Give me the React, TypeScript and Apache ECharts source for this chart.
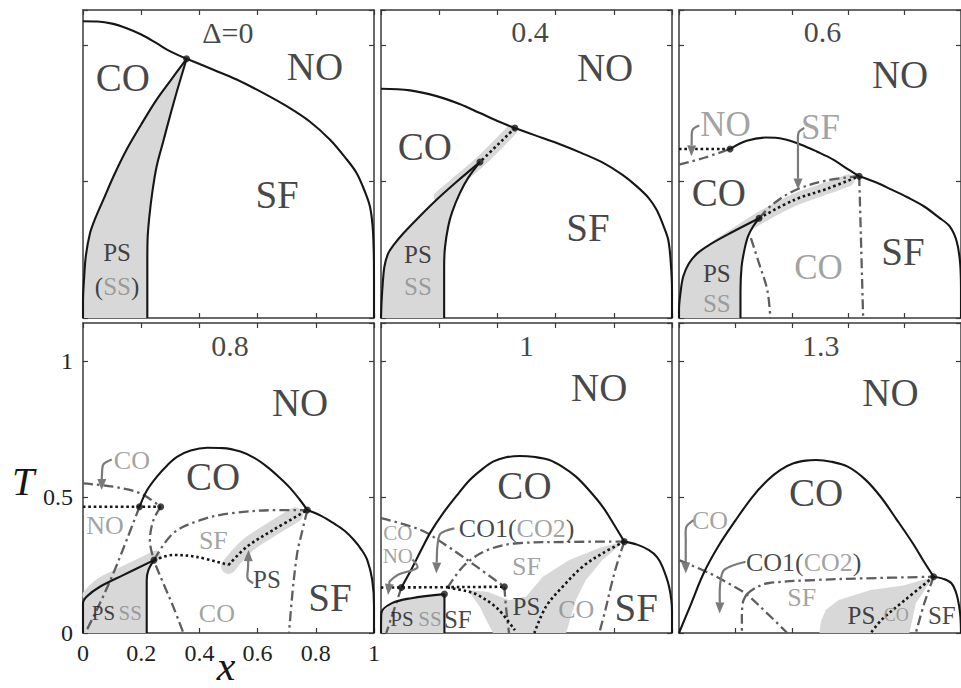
import React, { useEffect, useRef } from 'react';
import * as echarts from 'echarts';

// ---------- Panel Δ=0 ----------
const a_noCo = [[0, 1.089], [0.05, 1.088], [0.1, 1.08], [0.15, 1.063], [0.2, 1.04], [0.25, 1.01], [0.3, 0.978], [0.356, 0.951]];
const a_noSf = [[0.356, 0.951], [0.45, 0.91], [0.528, 0.875], [0.62, 0.825], [0.7, 0.777], [0.78, 0.72], [0.849, 0.654], [0.9, 0.59], [0.94, 0.532], [0.97, 0.46], [0.986, 0.409], [0.995, 0.34], [0.999, 0.25], [1, 0.15], [1, 0]];
const a_psLeft = [[0.356, 0.951], [0.3, 0.87], [0.253, 0.801], [0.2, 0.71], [0.15, 0.618], [0.105, 0.52], [0.07, 0.434], [0.04, 0.36], [0.024, 0.311], [0.01, 0.23], [0.004, 0.15], [0, 0.06], [0, 0]];
const a_psRight = [[0.356, 0.951], [0.325, 0.84], [0.299, 0.741], [0.275, 0.645], [0.253, 0.556], [0.238, 0.46], [0.228, 0.372], [0.222, 0.29], [0.221, 0.2], [0.221, 0]];
const a_dots = [[0.356, 0.951]];
const a_labels = [
  ['Δ=0', 0.498, 1.048, 'title'], ['CO', 0.137, 0.882, 'big'], ['NO', 0.797, 0.923, 'big'],
  ['SF', 0.667, 0.452, 'big'], ['PS', 0.117, 0.239, 'mid'], ['{k|(}{g|SS}{k|)}', 0.117, 0.114, 'mid'],
];

// ---------- Panel 0.4 ----------
const b_noCo = [[0, 0.841], [0.1, 0.835], [0.191, 0.814], [0.27, 0.785], [0.34, 0.752], [0.4, 0.723], [0.46, 0.697]];
const b_noSf = [[0.46, 0.697], [0.53, 0.67], [0.604, 0.642], [0.69, 0.605], [0.764, 0.569], [0.83, 0.525], [0.879, 0.483], [0.92, 0.44], [0.947, 0.397], [0.97, 0.34], [0.987, 0.287], [0.996, 0.2], [1, 0.1], [1, 0]];
const b_dotted = [[0.46, 0.697], [0.34, 0.572]];
const b_band = [[0.45, 0.69], [0.34, 0.572], [0.26, 0.5], [0.2, 0.445]];
const b_psLeft = [[0.34, 0.572], [0.26, 0.5], [0.191, 0.434], [0.13, 0.37], [0.077, 0.311], [0.045, 0.27], [0.025, 0.238], [0.012, 0.19], [0.006, 0.127], [0.002, 0.06], [0, 0]];
const b_psRight = [[0.34, 0.572], [0.3, 0.515], [0.271, 0.458], [0.245, 0.39], [0.231, 0.336], [0.22, 0.26], [0.217, 0.189], [0.217, 0]];
const b_dots = [[0.46, 0.697], [0.34, 0.572]];
const b_labels = [
  ['0.4', 0.512, 1.051, 'title'], ['NO', 0.77, 0.919, 'big'], ['CO', 0.151, 0.629, 'big'],
  ['SF', 0.711, 0.331, 'big'], ['PS', 0.127, 0.232, 'mid'], ['SS', 0.127, 0.114, 'midGrey'],
];

// ---------- Panel 0.6 ----------
const c_noDotted = [[0, 0.62], [0.181, 0.62]];
const c_noDashDot = [[0, 0.5625], [0.09, 0.588], [0.181, 0.62]];
const c_coArc = [[0.181, 0.62], [0.24, 0.65], [0.307, 0.662], [0.37, 0.657], [0.433, 0.636], [0.49, 0.61], [0.547, 0.581], [0.6, 0.545], [0.639, 0.52]];
const c_sfLine = [[0.639, 0.52], [0.7, 0.497], [0.754, 0.471], [0.81, 0.443], [0.868, 0.41], [0.92, 0.37], [0.96, 0.336], [0.985, 0.28], [0.997, 0.2], [1, 0.1], [1, 0]];
const c_sfDashDot = [[0.284, 0.366], [0.33, 0.415], [0.41, 0.468], [0.525, 0.505], [0.639, 0.52]];
const c_psDotted = [[0.284, 0.366], [0.41, 0.434], [0.525, 0.474], [0.639, 0.52]];
const c_band = [[0.14, 0.27], [0.2, 0.31], [0.284, 0.366], [0.41, 0.434], [0.53, 0.478], [0.6, 0.505]];
const c_psLeft = [[0.284, 0.366], [0.181, 0.311], [0.11, 0.27], [0.066, 0.238], [0.035, 0.2], [0.015, 0.152], [0.005, 0.09], [0, 0.03], [0, 0]];
const c_psRight = [[0.284, 0.366], [0.262, 0.335], [0.245, 0.3], [0.232, 0.25], [0.222, 0.189], [0.218, 0.1], [0.218, 0]];
const c_coDashDot = [[0.255, 0.293], [0.284, 0.2], [0.313, 0.103], [0.324, 0]];
const c_vertDashDot = [[0.639, 0.52], [0.645, 0.3], [0.653, 0]];
const c_dots = [[0.181, 0.62], [0.639, 0.52], [0.284, 0.366]];
const c_arrowNo = [[0.072, 0.706], [0.048, 0.69], [0.045, 0.65], [0.044, 0.593]];
const c_arrowSf = [[0.444, 0.697], [0.424, 0.68], [0.422, 0.63], [0.422, 0.471]];
const c_labels = [
  ['0.6', 0.509, 1.051, 'title'], ['NO', 0.784, 0.893, 'big'], ['NO', 0.165, 0.71, 'greyBig'],
  ['SF', 0.502, 0.699, 'greyBig'], ['CO', 0.141, 0.46, 'big'], ['SF', 0.794, 0.243, 'big'],
  ['CO', 0.495, 0.184, 'greyBig'], ['PS', 0.134, 0.165, 'mid'], ['SS', 0.134, 0.055, 'midGrey'],
];

// ---------- Panel 0.8 ----------
const d_coArc = [[0.194, 0.464], [0.22, 0.525], [0.254, 0.575], [0.29, 0.617], [0.323, 0.648], [0.37, 0.671], [0.427, 0.681], [0.48, 0.68], [0.541, 0.667], [0.59, 0.643], [0.633, 0.611], [0.675, 0.572], [0.713, 0.532], [0.745, 0.49], [0.771, 0.452]];
const d_sfLine = [[0.771, 0.452], [0.82, 0.43], [0.862, 0.403], [0.9, 0.375], [0.931, 0.342], [0.958, 0.305], [0.977, 0.268], [0.994, 0.195], [1, 0.1], [1, 0]];
const d_noDotted = [[0, 0.464], [0.267, 0.464]];
const d_noDashDot = [[0, 0.55], [0.104, 0.538], [0.196, 0.514], [0.267, 0.464]];
const d_leftDashDot = [[0.194, 0.464], [0.15, 0.342], [0.104, 0.219], [0.058, 0.109], [0.013, 0.011]];
const d_midDashDot = [[0.267, 0.464], [0.242, 0.415], [0.23, 0.342], [0.244, 0.268], [0.276, 0.183], [0.31, 0.097], [0.345, 0]];
const d_psUpper = [[0, 0], [0, 0.109], [0.013, 0.134], [0.058, 0.17], [0.138, 0.213], [0.244, 0.268]];
const d_psRight = [[0.244, 0.268], [0.225, 0.232], [0.219, 0.195], [0.219, 0]];
const d_psDotted1 = [[0.244, 0.268], [0.31, 0.287], [0.39, 0.28], [0.5, 0.25]];
const d_psDotted2 = [[0.5, 0.25], [0.563, 0.317], [0.654, 0.379], [0.771, 0.452]];
const d_sfDashDot = [[0.244, 0.268], [0.31, 0.367], [0.403, 0.415], [0.506, 0.44], [0.677, 0.452], [0.771, 0.452]];
const d_rightDashDot = [[0.771, 0.452], [0.75, 0.36], [0.736, 0.293], [0.72, 0.15], [0.708, 0]];
const d_band1 = [[0.015, 0.14], [0.06, 0.185], [0.14, 0.228], [0.25, 0.285]];
const d_band2 = [[0.5, 0.245], [0.563, 0.32], [0.654, 0.385], [0.73, 0.435]];
const d_dots = [[0.194, 0.464], [0.267, 0.464], [0.244, 0.268], [0.771, 0.452]];
const d_arrowCo = [[0.099, 0.638], [0.07, 0.62], [0.065, 0.58], [0.064, 0.526]];
const d_arrowPs = [[0.585, 0.183], [0.566, 0.2], [0.567, 0.24], [0.569, 0.305]];
const d_labels = [
  ['0.8', 0.505, 1.059, 'title'], ['NO', 0.746, 0.849, 'big'], ['CO', 0.447, 0.574, 'big'],
  ['CO', 0.168, 0.636, 'grey'], ['NO', 0.076, 0.397, 'grey'], ['SF', 0.448, 0.342, 'grey'],
  ['PS', 0.632, 0.195, 'mid'], ['SF', 0.849, 0.132, 'big'], ['PS', 0.07, 0.072, 'small'],
  ['SS', 0.162, 0.072, 'smallGrey'], ['CO', 0.46, 0.072, 'grey'],
];

// ---------- Panel 1 ----------
const e_coArc = [[0.07, 0.167], [0.1, 0.225], [0.138, 0.305], [0.17, 0.37], [0.213, 0.44], [0.26, 0.505], [0.305, 0.5625], [0.345, 0.6], [0.385, 0.63], [0.43, 0.646], [0.476, 0.651], [0.53, 0.647], [0.579, 0.636], [0.625, 0.61], [0.67, 0.575], [0.715, 0.525], [0.762, 0.464], [0.8, 0.4], [0.836, 0.336]];
const e_sfLine = [[0.836, 0.336], [0.88, 0.325], [0.921, 0.305], [0.948, 0.28], [0.967, 0.244], [0.99, 0.17], [1, 0.08], [1, 0]];
const e_noDotted = [[0, 0.167], [0.424, 0.17]];
const e_noDashDot = [[0, 0.422], [0.134, 0.38], [0.23, 0.318], [0.33, 0.243], [0.424, 0.17]];
const e_coDashDot = [[0.424, 0.17], [0.43, 0.09], [0.44, 0]];
const e_leftDashDot = [[0.07, 0.167], [0.035, 0.054], [0.018, 0]];
const e_psDotted = [[0.229, 0.167], [0.29, 0.155], [0.332, 0.14], [0.4, 0.09], [0.46, 0.01]];
const e_psDotted2 = [[0.836, 0.336], [0.761, 0.293], [0.693, 0.244], [0.624, 0.17], [0.567, 0.097], [0.527, 0]];
const e_sfDashDot = [[0.229, 0.167], [0.287, 0.25], [0.366, 0.305], [0.469, 0.33], [0.65, 0.335], [0.836, 0.336]];
const e_rightDashDot = [[0.836, 0.336], [0.81, 0.25], [0.79, 0.17], [0.77, 0.08], [0.75, 0]];
const e_psUpper = [[0, 0], [0.001, 0.072], [0.036, 0.109], [0.104, 0.128], [0.218, 0.143]];
const e_psRight = [[0.218, 0.143], [0.218, 0]];
const e_psRegion = [[0.298, 0.158], [0.366, 0.152], [0.44, 0.12], [0.499, 0.134], [0.556, 0.207], [0.647, 0.268], [0.761, 0.317], [0.836, 0.336], [0.761, 0.268], [0.704, 0.195], [0.67, 0.121], [0.636, 0], [0.385, 0], [0.37, 0.03], [0.339, 0.097]];
const e_dots = [[0.07, 0.167], [0.424, 0.17], [0.218, 0.143], [0.836, 0.336]];
const e_arrowCo1 = [[0.252, 0.385], [0.204, 0.365], [0.194, 0.32], [0.19, 0.219]];
const e_arrowNo = [[0.108, 0.27], [0.125, 0.24], [0.06, 0.215], [0.03, 0.19], [0.024, 0.14]];
const e_labels = [
  ['1', 0.5, 1.059, 'title'], ['NO', 0.75, 0.904, 'big'], ['CO', 0.493, 0.544, 'big'],
  ['{k|CO1(}{g|CO2}{k|)}', 0.466, 0.386, 'mid26'], ['CO', 0.058, 0.366, 'greySm'], ['NO', 0.058, 0.282, 'greySm'],
  ['SF', 0.5, 0.243, 'grey'], ['PS', 0.5, 0.096, 'mid'], ['CO', 0.671, 0.085, 'grey'],
  ['SF', 0.877, 0.092, 'big'], ['PS', 0.072, 0.05, 'small'], ['SS', 0.168, 0.05, 'smallGrey'],
  ['SF', 0.264, 0.05, 'mid'],
];

// ---------- Panel 1.3 ----------
const f_coArc = [[0, 0], [0.04, 0.1], [0.087, 0.219], [0.14, 0.32], [0.201, 0.415], [0.26, 0.5], [0.315, 0.5625], [0.36, 0.6], [0.406, 0.624], [0.45, 0.634], [0.486, 0.636], [0.54, 0.63], [0.6, 0.611], [0.66, 0.565], [0.715, 0.501], [0.77, 0.42], [0.829, 0.33], [0.87, 0.26], [0.903, 0.207]];
const f_sfLine = [[0.903, 0.207], [0.935, 0.2], [0.966, 0.183], [0.985, 0.14], [0.997, 0.07], [1, 0]];
const f_coDashDot = [[0, 0.268], [0.11, 0.219], [0.18, 0.18], [0.24, 0.142], [0.31, 0.075], [0.384, 0]];
const f_sfDashDot = [[0.24, 0.142], [0.27, 0.165], [0.315, 0.183], [0.486, 0.195], [0.658, 0.201], [0.903, 0.207]];
const f_vertDashDot = [[0.24, 0.142], [0.226, 0.11], [0.223, 0.05], [0.223, 0]];
const f_psDotted = [[0.903, 0.207], [0.8, 0.12], [0.72, 0.05], [0.68, 0]];
const f_rightDashDot = [[0.903, 0.207], [0.87, 0.11], [0.84, 0]];
const f_psRegion = [[0.498, 0], [0.503, 0.04], [0.52, 0.085], [0.566, 0.121], [0.68, 0.158], [0.795, 0.175], [0.903, 0.207], [0.84, 0.109], [0.817, 0]];
const f_dots = [[0.903, 0.207]];
const f_arrowCo = [[0.052, 0.415], [0.026, 0.39], [0.024, 0.34], [0.024, 0.219]];
const f_arrowCo1 = [[0.236, 0.262], [0.16, 0.232], [0.146, 0.18], [0.144, 0.072]];
const f_labels = [
  ['1.3', 0.503, 1.059, 'title'], ['NO', 0.75, 0.886, 'big'], ['CO', 0.486, 0.515, 'big'],
  ['CO', 0.11, 0.415, 'grey'], ['{k|CO1(}{g|CO2}{k|)}', 0.442, 0.261, 'mid26'], ['SF', 0.435, 0.132, 'grey'],
  ['PS', 0.647, 0.066, 'mid'], ['CO', 0.77, 0.066, 'greyTiny'], ['SF', 0.932, 0.066, 'mid'],
];

// axis ticks
const xTickLabels = [0, 0.2, 0.4, 0.6, 0.8, 1];
const yTickLabels = [0, 0.5, 1];

const FONT = 'Liberation Serif, DejaVu Serif, serif';
const BLACK = '#161616';
const GREY = '#8a8a8a';
const DASHGREY = '#5e5e5e';
const FILL = '#d8d8d8';

const STYLES: Record<string, { size: number; color: string }> = {
  big: { size: 39, color: BLACK },
  greyBig: { size: 35, color: GREY },
  title: { size: 30, color: BLACK },
  mid: { size: 25, color: BLACK },
  midGrey: { size: 25, color: GREY },
  grey: { size: 26, color: GREY },
  greySm: { size: 21, color: GREY },
  small: { size: 21, color: BLACK },
  smallGrey: { size: 21, color: GREY },
  greyTiny: { size: 18, color: GREY },
  mid26: { size: 26, color: BLACK },
};

const rev = (a: number[][]) => a.slice().reverse();

const panels = [
  { fills: [[...a_psLeft, ...rev(a_psRight)]], bands: [], solids: [a_noCo, a_noSf, a_psLeft, a_psRight], dotted: [], dashdot: [], dots: a_dots, arrows: [], labels: a_labels },
  { fills: [[...b_psLeft, ...rev(b_psRight)]], bands: [[b_band, 11]], solids: [b_noCo, b_noSf, b_psLeft, b_psRight], dotted: [b_dotted], dashdot: [], dots: b_dots, arrows: [], labels: b_labels },
  { fills: [[...c_psLeft, ...rev(c_psRight)]], bands: [[c_band, 12]], solids: [c_coArc, c_sfLine, c_psLeft, c_psRight], dotted: [c_noDotted, c_psDotted], dashdot: [c_noDashDot, c_sfDashDot, c_coDashDot, c_vertDashDot], dots: c_dots, arrows: [c_arrowNo, c_arrowSf], labels: c_labels },
  { fills: [[...d_psUpper, ...d_psRight.slice(1)]], bands: [[d_band1, 10], [d_band2, 15]], solids: [d_coArc, d_sfLine, d_psUpper, d_psRight], dotted: [d_noDotted, d_psDotted1, d_psDotted2], dashdot: [d_noDashDot, d_leftDashDot, d_midDashDot, d_sfDashDot, d_rightDashDot], dots: d_dots, arrows: [d_arrowCo, d_arrowPs], labels: d_labels },
  { fills: [[...e_psUpper, ...e_psRight.slice(1)], e_psRegion], bands: [], solids: [e_coArc, e_sfLine, e_psUpper, e_psRight], dotted: [e_noDotted, e_psDotted, e_psDotted2], dashdot: [e_noDashDot, e_coDashDot, e_leftDashDot, e_sfDashDot, e_rightDashDot], dots: e_dots, arrows: [e_arrowCo1, e_arrowNo], labels: e_labels },
  { fills: [f_psRegion], bands: [], solids: [f_coArc, f_sfLine], dotted: [f_psDotted], dashdot: [f_coDashDot, f_sfDashDot, f_vertDashDot, f_rightDashDot], dots: f_dots, arrows: [f_arrowCo, f_arrowCo1], labels: f_labels },
];

const COL_LEFT = [83, 381, 679];
const ROW_TOP = [10, 323];
const ROW_H = [308, 310];
const ROW_YMAX = [1.13, 1.14];
const PANEL_W = 291;

function buildOption() {
  const grid: any[] = [];
  const xAxis: any[] = [];
  const yAxis: any[] = [];
  const series: any[] = [];
  const frame = { show: true, onZero: false, lineStyle: { color: '#3a3a3a', width: 1.5 } };
  const tick = { show: true, inside: true, length: 5, lineStyle: { color: '#3a3a3a', width: 1.2 } };
  const lbl = { fontFamily: FONT, fontSize: 24, color: '#222' };

  panels.forEach((p, i) => {
    const r = Math.floor(i / 3);
    const c = i % 3;
    grid.push({ left: COL_LEFT[c], top: ROW_TOP[r], width: PANEL_W, height: ROW_H[r], containLabel: false });
    const showLabels = i === 3;
    const xmin = xTickLabels[0];
    const xmax = xTickLabels[xTickLabels.length - 1];
    const xint = xTickLabels[1] - xTickLabels[0];
    const yint = yTickLabels[1] - yTickLabels[0];
    xAxis.push({
      type: 'value', gridIndex: i, min: xmin, max: xmax, interval: xint, position: 'bottom',
      axisLine: frame, axisTick: tick, splitLine: { show: false },
      axisLabel: { show: showLabels, margin: 8, ...lbl, formatter: (v: number) => String(Math.round(v * 10) / 10) },
    });
    xAxis.push({
      type: 'value', gridIndex: i, min: xmin, max: xmax, interval: xint, position: 'top',
      axisLine: frame, axisTick: tick, splitLine: { show: false }, axisLabel: { show: false },
    });
    yAxis.push({
      type: 'value', gridIndex: i, min: 0, max: ROW_YMAX[r], interval: yint, position: 'left',
      axisLine: frame, axisTick: tick, splitLine: { show: false },
      axisLabel: {
        show: showLabels, margin: 10, ...lbl, showMaxLabel: false,
        formatter: (v: number) => (v > 1.05 ? '' : String(Math.round(v * 10) / 10)),
      },
    });
    yAxis.push({
      type: 'value', gridIndex: i, min: 0, max: ROW_YMAX[r], interval: yint, position: 'right',
      axisLine: frame, axisTick: tick, splitLine: { show: false }, axisLabel: { show: false },
    });
    const ax = { xAxisIndex: i * 2, yAxisIndex: i * 2 };

    p.fills.forEach((pts: number[][]) => {
      series.push({
        type: 'custom', ...ax, data: [[0, 0]], silent: true, z: 1, clip: true,
        renderItem: (_params: any, api: any) => ({
          type: 'polygon',
          shape: { points: pts.map((q) => api.coord(q)) },
          style: { fill: FILL },
        }),
      });
    });
    p.bands.forEach(([pts, w]: any) => {
      series.push({
        type: 'line', ...ax, data: pts, symbol: 'none', showSymbol: false, smooth: 0.35, silent: true, z: 2,
        lineStyle: { color: FILL, width: w, cap: 'round', join: 'round' },
      });
    });
    const line = (pts: number[][], style: any, z: number) => ({
      type: 'line', ...ax, data: pts, symbol: 'none', showSymbol: false, smooth: 0.35, silent: true, z, lineStyle: style,
    });
    p.dashdot.forEach((pts: number[][]) => series.push(line(pts, { color: DASHGREY, width: 2.3, type: [10, 4, 2.5, 4] }, 3)));
    p.dotted.forEach((pts: number[][]) => series.push(line(pts, { color: BLACK, width: 2.6, type: [2.6, 2.8] }, 4)));
    p.solids.forEach((pts: number[][]) => series.push(line(pts, { color: BLACK, width: 2.1 }, 5)));
    series.push({
      type: 'scatter', ...ax, data: p.dots, symbol: 'circle', symbolSize: 7, silent: true, z: 6,
      itemStyle: { color: BLACK },
    });
    p.arrows.forEach((pts: number[][]) => {
      series.push({
        type: 'custom', ...ax, data: [[0, 0]], silent: true, z: 7,
        renderItem: (_params: any, api: any) => {
          const cs = pts.map((q) => api.coord(q));
          const n = cs.length;
          const end = cs[n - 1];
          const prev = cs[n - 2];
          const dx = end[0] - prev[0];
          const dy = end[1] - prev[1];
          const L = Math.hypot(dx, dy) || 1;
          const ux = dx / L;
          const uy = dy / L;
          const hl = 11;
          const hw = 4.5;
          const base = [end[0] - ux * hl, end[1] - uy * hl];
          const lp = [...cs.slice(0, n - 1), base];
          return {
            type: 'group',
            children: [
              { type: 'polyline', shape: { points: lp, smooth: 0.3 }, style: { stroke: '#7a7a7a', lineWidth: 2.2, fill: null } },
              {
                type: 'polygon',
                shape: { points: [end, [base[0] - uy * hw, base[1] + ux * hw], [base[0] + uy * hw, base[1] - ux * hw]] },
                style: { fill: '#7a7a7a' },
              },
            ],
          };
        },
      });
    });
    series.push({
      type: 'scatter', ...ax, symbolSize: 1, silent: true, z: 10,
      itemStyle: { color: 'rgba(0,0,0,0)' },
      data: p.labels.map(([text, x, y, st]: any) => {
        const s = STYLES[st];
        return {
          value: [x, y],
          label: {
            show: true, position: 'inside', formatter: () => text,
            fontFamily: FONT, fontSize: s.size, color: s.color, lineHeight: s.size,
            rich: {
              k: { fontFamily: FONT, fontSize: s.size, color: BLACK, lineHeight: s.size },
              g: { fontFamily: FONT, fontSize: s.size, color: GREY, lineHeight: s.size },
            },
          },
        };
      }),
    });
  });

  return {
    animation: false,
    backgroundColor: '#ffffff',
    grid, xAxis, yAxis, series,
    graphic: [
      { type: 'text', x: 23, y: 481, style: { text: 'T', fontFamily: FONT, fontStyle: 'italic', fontSize: 40, fill: BLACK, align: 'center', verticalAlign: 'middle' } },
      { type: 'text', x: 226, y: 687, style: { text: 'x', fontFamily: FONT, fontStyle: 'italic', fontSize: 42, lineHeight: 42, fill: BLACK, align: 'center', verticalAlign: 'bottom' } },
    ],
  };
}

export default function App() {
  const ref = useRef<HTMLDivElement>(null);
  useEffect(() => {
    if (!ref.current) return;
    const chart = echarts.init(ref.current, undefined, { renderer: 'svg' });
    chart.setOption(buildOption() as any);
    return () => chart.dispose();
  }, []);
  return <div ref={ref} style={{ position: 'absolute', left: 0, top: 0, width: 961, height: 688, background: '#fff' }} />;
}
